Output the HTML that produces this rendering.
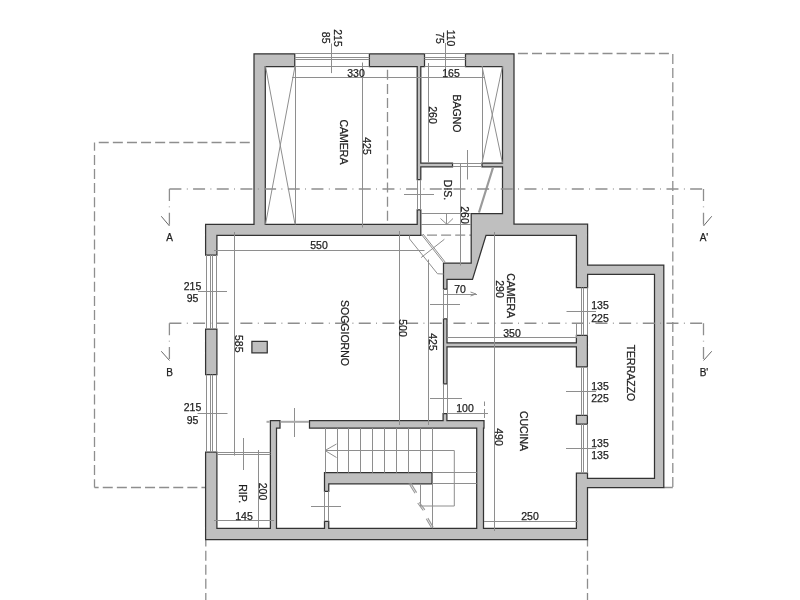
<!DOCTYPE html>
<html><head><meta charset="utf-8">
<style>
html,body{margin:0;padding:0;background:#fff;width:800px;height:600px;overflow:hidden}
svg{display:block;will-change:transform}
text{font-family:"Liberation Sans",sans-serif;fill:#1e1e1e;stroke:#1e1e1e;stroke-width:0.25px}
</style></head><body>
<svg width="800" height="600" viewBox="0 0 800 600">
<g fill="none" stroke="#8e8e8e" stroke-width="1.3">
<path d="M94.50,487.50L94.50,479.20M94.50,475.10L94.50,465.10M94.50,461.00L94.50,451.00M94.50,446.90L94.50,436.90M94.50,432.80L94.50,422.80M94.50,418.70L94.50,408.70M94.50,404.60L94.50,394.60M94.50,390.50L94.50,380.50M94.50,376.40L94.50,366.40M94.50,362.30L94.50,352.30M94.50,348.20L94.50,338.20M94.50,334.10L94.50,324.10M94.50,320.00L94.50,310.00M94.50,305.90L94.50,295.90M94.50,291.80L94.50,281.80M94.50,277.70L94.50,267.70M94.50,263.60L94.50,253.60M94.50,249.50L94.50,239.50M94.50,235.40L94.50,225.40M94.50,221.30L94.50,211.30M94.50,207.20L94.50,197.20M94.50,193.10L94.50,183.10M94.50,179.00L94.50,169.00M94.50,164.90L94.50,154.90M94.50,150.80L94.50,142.50M98.75,142.50L108.75,142.50M112.85,142.50L122.85,142.50M126.95,142.50L136.95,142.50M141.05,142.50L151.05,142.50M155.15,142.50L165.15,142.50M169.25,142.50L179.25,142.50M183.35,142.50L193.35,142.50M197.45,142.50L207.45,142.50M211.55,142.50L221.55,142.50M225.65,142.50L235.65,142.50M239.75,142.50L249.75,142.50M94.50,487.50L98.65,487.50M102.75,487.50L112.75,487.50M116.85,487.50L126.85,487.50M130.95,487.50L140.95,487.50M145.05,487.50L155.05,487.50M159.15,487.50L169.15,487.50M173.25,487.50L183.25,487.50M187.35,487.50L197.35,487.50M201.45,487.50L205.60,487.50M517.90,53.50L527.90,53.50M532.00,53.50L542.00,53.50M546.10,53.50L556.10,53.50M560.20,53.50L570.20,53.50M574.30,53.50L584.30,53.50M588.40,53.50L598.40,53.50M602.50,53.50L612.50,53.50M616.60,53.50L626.60,53.50M630.70,53.50L640.70,53.50M644.80,53.50L654.80,53.50M658.90,53.50L668.90,53.50M672.80,54.00L672.80,64.00M672.80,68.10L672.80,78.10M672.80,82.20L672.80,92.20M672.80,96.30L672.80,106.30M672.80,110.40L672.80,120.40M672.80,124.50L672.80,134.50M672.80,138.60L672.80,148.60M672.80,152.70L672.80,162.70M672.80,166.80L672.80,176.80M672.80,180.90L672.80,190.90M672.80,195.00L672.80,205.00M672.80,209.10L672.80,219.10M672.80,223.20L672.80,233.20M672.80,237.30L672.80,247.30M672.80,251.40L672.80,261.40M672.80,265.50L672.80,275.50M672.80,279.60L672.80,289.60M672.80,293.70L672.80,303.70M672.80,307.80L672.80,317.80M672.80,321.90L672.80,331.90M672.80,336.00L672.80,346.00M672.80,350.10L672.80,360.10M672.80,364.20L672.80,374.20M672.80,378.30L672.80,388.30M672.80,392.40L672.80,402.40M672.80,406.50L672.80,416.50M672.80,420.60L672.80,430.60M672.80,434.70L672.80,444.70M672.80,448.80L672.80,458.80M672.80,462.90L672.80,472.90M672.80,477.00L672.80,487.00M672.80,487.50L663.80,487.50M205.80,539.50L205.80,546.55M205.80,550.65L205.80,560.65M205.80,564.75L205.80,574.75M205.80,578.85L205.80,588.85M205.80,592.95L205.80,600.00M587.50,539.50L587.50,546.55M587.50,550.65L587.50,560.65M587.50,564.75L587.50,574.75M587.50,578.85L587.50,588.85M587.50,592.95L587.50,600.00M387.50,69.78L387.50,79.78M387.50,83.88L387.50,93.88M387.50,97.98L387.50,107.98M387.50,112.08L387.50,122.08M387.50,126.18L387.50,136.18M387.50,140.28L387.50,150.28M387.50,154.38L387.50,164.38M387.50,168.48L387.50,178.48M387.50,182.57L387.50,192.57M387.50,196.68L387.50,206.68M387.50,210.78L387.50,220.78M421.00,235.10L422.90,235.10M427.00,235.10L437.00,235.10M441.10,235.10L451.10,235.10M455.20,235.10L465.20,235.10M469.30,235.10L471.20,235.10"/>
</g>
<g fill="#bfbfbf" stroke="#333333" stroke-width="1.25" stroke-linejoin="miter">
<path d="M205.60,224.30 L205.60,255.00 L216.90,255.00 L216.90,235.30 L420.80,235.30 L420.80,209.80 L417.20,209.80 L417.20,224.30 L265.30,224.30 L265.30,66.50 L294.75,66.50 L294.75,53.80 L254.00,53.80 L254.00,224.30 ZM417.20,66.50 L417.20,179.60 L420.80,179.60 L420.80,166.80 L452.50,166.80 L452.50,163.20 L420.80,163.20 L420.80,66.50 L424.50,66.50 L424.50,53.80 L369.40,53.80 L369.40,66.50 ZM251.90,341.25 L251.90,352.75 L267.25,352.75 L267.25,341.25 ZM205.60,329.00 L205.60,374.60 L216.90,374.60 L216.90,329.00 ZM280.00,420.60 L270.40,420.60 L270.40,528.30 L216.90,528.30 L216.90,452.20 L205.60,452.20 L205.60,539.50 L587.50,539.50 L587.50,487.50 L663.80,487.50 L663.80,265.00 L587.60,265.00 L587.60,224.20 L514.00,224.20 L514.00,53.80 L465.50,53.80 L465.50,66.50 L502.50,66.50 L502.50,163.20 L482.00,163.20 L482.00,166.80 L502.50,166.80 L502.50,213.50 L471.20,213.50 L471.20,263.10 L443.50,263.10 L443.50,289.00 L447.00,289.00 L447.00,279.40 L472.50,279.40 L486.00,235.30 L576.40,235.30 L576.40,287.50 L587.60,287.50 L587.60,274.30 L654.50,274.30 L654.50,478.40 L587.50,478.40 L587.50,473.15 L576.40,473.15 L576.40,528.30 L483.50,528.30 L483.50,428.10 L484.00,428.10 L484.00,420.60 L446.90,420.60 L446.90,413.50 L443.10,413.50 L443.10,420.60 L309.50,420.60 L309.50,428.10 L476.70,428.10 L476.70,528.30 L328.75,528.30 L328.75,521.25 L324.50,521.25 L324.50,528.30 L276.50,528.30 L276.50,428.10 L280.00,428.10 ZM328.75,483.80 L432.00,483.80 L432.00,472.70 L324.50,472.70 L324.50,491.25 L328.75,491.25 ZM447.00,346.90 L576.40,346.90 L576.40,366.90 L587.40,366.90 L587.40,335.40 L576.40,335.40 L576.40,342.75 L447.00,342.75 L447.00,318.75 L443.50,318.75 L443.50,383.75 L447.00,383.75 ZM576.40,415.40 L576.40,424.15 L587.40,424.15 L587.40,415.40 Z" fill-rule="evenodd"/>
</g>
<g fill="none" stroke="#8e8e8e" stroke-width="1">
<line x1="294.75" y1="53.5" x2="369.4" y2="53.5"/>
<line x1="424.5" y1="53.5" x2="465.5" y2="53.5"/>
<line x1="294.75" y1="57.5" x2="369.4" y2="57.5"/>
<line x1="424.5" y1="57.5" x2="465.5" y2="57.5"/>
<line x1="294.75" y1="59.5" x2="369.4" y2="59.5"/>
<line x1="424.5" y1="59.5" x2="465.5" y2="59.5"/>
<line x1="294.75" y1="66.5" x2="369.4" y2="66.5"/>
<line x1="424.5" y1="66.5" x2="465.5" y2="66.5"/>
<line x1="295.5" y1="66.25" x2="295.5" y2="224.3"/>
<line x1="265.5" y1="66.25" x2="295" y2="224.3"/>
<line x1="295" y1="66.25" x2="265.5" y2="224.3"/>
<line x1="331.5" y1="43.5" x2="331.5" y2="73.1"/>
<line x1="445.5" y1="43" x2="445.5" y2="73"/>
<line x1="292" y1="77.5" x2="485" y2="77.5"/>
<line x1="362.5" y1="62.5" x2="362.5" y2="227.5"/>
<line x1="428.5" y1="63" x2="428.5" y2="163"/>
<line x1="482.5" y1="66.25" x2="482.5" y2="163.2"/>
<line x1="482" y1="66.25" x2="502.5" y2="163.2"/>
<line x1="502.5" y1="66.25" x2="482" y2="163.2"/>
<line x1="467.5" y1="150" x2="467.5" y2="179.5"/>
<line x1="452.5" y1="163.5" x2="482" y2="163.5"/>
<line x1="452.5" y1="166.5" x2="482" y2="166.5"/>
<line x1="417.5" y1="179.6" x2="417.5" y2="209.8"/>
<line x1="420.5" y1="179.6" x2="420.5" y2="209.8"/>
<line x1="460.5" y1="163" x2="460.5" y2="265.5"/>
<line x1="404" y1="194.5" x2="434" y2="194.5"/>
<line x1="421" y1="213.5" x2="471" y2="213.5"/>
<line x1="421" y1="224.5" x2="471" y2="224.5"/>
<line x1="446.5" y1="213.1" x2="446.5" y2="224.4"/>
<polyline points="440.5,218.5 446.9,224.4 453,218.5"/>
<line x1="421.1" y1="234" x2="443.25" y2="262.1"/>
<line x1="423" y1="234" x2="445.5" y2="262.5"/>
<line x1="421.1" y1="257.6" x2="444.4" y2="239.25"/>
<polyline points="409.5,235.5 409.5,238.9 437.5,273.75 443.5,274"/>
<line x1="214" y1="250.5" x2="424.5" y2="250.5"/>
<line x1="234.5" y1="232" x2="234.5" y2="455.6"/>
<line x1="399.5" y1="231" x2="399.5" y2="425"/>
<line x1="428.5" y1="259.5" x2="428.5" y2="425"/>
<line x1="494.5" y1="232" x2="494.5" y2="531"/>
<line x1="206.5" y1="255" x2="206.5" y2="329"/>
<line x1="206.5" y1="374.6" x2="206.5" y2="452.2"/>
<line x1="210.5" y1="255" x2="210.5" y2="329"/>
<line x1="210.5" y1="374.6" x2="210.5" y2="452.2"/>
<line x1="212.5" y1="255" x2="212.5" y2="329"/>
<line x1="212.5" y1="374.6" x2="212.5" y2="452.2"/>
<line x1="216.5" y1="255" x2="216.5" y2="329"/>
<line x1="216.5" y1="374.6" x2="216.5" y2="452.2"/>
<line x1="198" y1="291.5" x2="227" y2="291.5"/>
<line x1="197.5" y1="413.5" x2="227.5" y2="413.5"/>
<line x1="581.5" y1="287.5" x2="581.5" y2="335.4"/>
<line x1="581.5" y1="366.9" x2="581.5" y2="415.4"/>
<line x1="581.5" y1="424.15" x2="581.5" y2="473.15"/>
<line x1="583.5" y1="287.5" x2="583.5" y2="335.4"/>
<line x1="583.5" y1="366.9" x2="583.5" y2="415.4"/>
<line x1="583.5" y1="424.15" x2="583.5" y2="473.15"/>
<line x1="587.5" y1="287.5" x2="587.5" y2="335.4"/>
<line x1="587.5" y1="366.9" x2="587.5" y2="415.4"/>
<line x1="587.5" y1="424.15" x2="587.5" y2="473.15"/>
<line x1="566.5" y1="311.5" x2="596" y2="311.5"/>
<line x1="566" y1="391.5" x2="596" y2="391.5"/>
<line x1="566" y1="448.5" x2="596" y2="448.5"/>
<line x1="444" y1="294.5" x2="477" y2="294.5"/>
<line x1="430" y1="304.5" x2="460" y2="304.5"/>
<polyline points="470.5,292 476,294 470.5,296"/>
<line x1="443.5" y1="289" x2="443.5" y2="318.75"/>
<line x1="447.5" y1="289" x2="447.5" y2="318.75"/>
<line x1="443.5" y1="383.75" x2="443.5" y2="413.5"/>
<line x1="447.5" y1="383.75" x2="447.5" y2="413.5"/>
<line x1="447" y1="337.5" x2="576.4" y2="337.5"/>
<line x1="576.5" y1="323.5" x2="576.5" y2="338"/>
<line x1="447" y1="413.5" x2="488" y2="413.5"/>
<line x1="430" y1="398.5" x2="462" y2="398.5"/>
<line x1="484.5" y1="401.5" x2="484.5" y2="406"/>
<line x1="484.5" y1="409" x2="484.5" y2="418"/>
<line x1="325.5" y1="428.1" x2="325.5" y2="472.7"/>
<line x1="337.5" y1="428.1" x2="337.5" y2="472.7"/>
<line x1="348.5" y1="428.1" x2="348.5" y2="472.7"/>
<line x1="360.5" y1="428.1" x2="360.5" y2="472.7"/>
<line x1="372.5" y1="428.1" x2="372.5" y2="472.7"/>
<line x1="384.5" y1="428.1" x2="384.5" y2="472.7"/>
<line x1="396.5" y1="428.1" x2="396.5" y2="472.7"/>
<line x1="408.5" y1="428.1" x2="408.5" y2="472.7"/>
<line x1="420.5" y1="428.1" x2="420.5" y2="472.7"/>
<line x1="432.5" y1="428.1" x2="432.5" y2="472.7"/>
<line x1="432.5" y1="483.8" x2="432.5" y2="528.3"/>
<line x1="420.5" y1="483.8" x2="420.5" y2="506"/>
<polyline points="325,450.5 454.3,450.5 454.3,506 420,506"/>
<polyline points="336.5,444 325,450.5 336.5,457.5"/>
<line x1="432" y1="472.5" x2="476.7" y2="472.5"/>
<line x1="432" y1="483.5" x2="476.7" y2="483.5"/>
<line x1="324.5" y1="491.25" x2="324.5" y2="521.25"/>
<line x1="328.5" y1="491.25" x2="328.5" y2="521.25"/>
<line x1="311" y1="506.5" x2="341" y2="506.5"/>
<line x1="294.5" y1="408" x2="294.5" y2="437"/>
<line x1="216.9" y1="452.5" x2="270.4" y2="452.5"/>
<line x1="216.9" y1="454.5" x2="270.4" y2="454.5"/>
<line x1="243.5" y1="438" x2="243.5" y2="470"/>
<line x1="258.5" y1="450" x2="258.5" y2="528.3"/>
<line x1="214" y1="520.5" x2="274" y2="520.5"/>
<line x1="484" y1="521.5" x2="578" y2="521.5"/>
</g>
<g fill="none" stroke="#999" stroke-width="1.1">
<line x1="409" y1="483.5" x2="415" y2="493.25"/>
<line x1="410.6" y1="482.9" x2="416.6" y2="492.65"/>
<line x1="417.7" y1="503" x2="423.25" y2="510.5"/>
<line x1="419.3" y1="502.4" x2="424.85" y2="509.9"/>
<line x1="426.25" y1="518.75" x2="431.5" y2="527.75"/>
<line x1="427.85" y1="518.15" x2="433.1" y2="527.15"/>
</g>
<g fill="none" stroke="#9a9a9a" stroke-width="2.2">
<line x1="493" y1="167.5" x2="479" y2="212.5"/>
<line x1="266.5" y1="421.8" x2="269.8" y2="421.8" stroke="#a8a8a8" stroke-width="2"/><line x1="280.6" y1="421.8" x2="309" y2="421.8" stroke="#a8a8a8" stroke-width="2"/>
</g>
<g fill="none" stroke="#8e8e8e" stroke-width="1.3">
<path d="M169.40,189.00L169.40,201.00M169.40,206.44L169.40,207.24M169.40,212.67L169.40,224.67M169.40,189.00L181.40,189.00M186.84,189.00L187.64,189.00M193.07,189.00L205.07,189.00M210.50,189.00L211.31,189.00M216.74,189.00L228.74,189.00M234.18,189.00L234.98,189.00M240.41,189.00L252.41,189.00M257.85,189.00L258.64,189.00M264.08,189.00L276.08,189.00M281.51,189.00L282.31,189.00M287.75,189.00L299.75,189.00M305.19,189.00L305.99,189.00M311.42,189.00L323.42,189.00M328.86,189.00L329.66,189.00M335.09,189.00L347.09,189.00M352.52,189.00L353.33,189.00M358.76,189.00L370.76,189.00M376.20,189.00L377.00,189.00M382.43,189.00L394.43,189.00M399.87,189.00L400.67,189.00M406.10,189.00L418.10,189.00M423.54,189.00L424.34,189.00M429.77,189.00L441.77,189.00M447.21,189.00L448.01,189.00M453.44,189.00L465.44,189.00M470.88,189.00L471.68,189.00M477.11,189.00L489.11,189.00M494.55,189.00L495.35,189.00M500.78,189.00L512.78,189.00M518.22,189.00L519.02,189.00M524.45,189.00L536.45,189.00M541.89,189.00L542.69,189.00M548.12,189.00L560.12,189.00M565.56,189.00L566.36,189.00M571.79,189.00L583.79,189.00M589.23,189.00L590.03,189.00M595.46,189.00L607.46,189.00M612.90,189.00L613.70,189.00M619.13,189.00L631.13,189.00M636.57,189.00L637.37,189.00M642.80,189.00L654.80,189.00M660.24,189.00L661.04,189.00M666.47,189.00L678.47,189.00M683.91,189.00L684.71,189.00M690.14,189.00L702.14,189.00M703.50,189.00L703.50,201.00M703.50,206.44L703.50,207.24M703.50,212.67L703.50,224.67M169.40,323.25L169.40,335.25M169.40,340.69L169.40,341.49M169.40,346.92L169.40,358.92M169.40,323.25L181.40,323.25M186.84,323.25L187.64,323.25M193.07,323.25L205.07,323.25M210.50,323.25L211.31,323.25M216.74,323.25L228.74,323.25M234.18,323.25L234.98,323.25M240.41,323.25L252.41,323.25M257.85,323.25L258.64,323.25M264.08,323.25L276.08,323.25M281.51,323.25L282.31,323.25M287.75,323.25L299.75,323.25M305.19,323.25L305.99,323.25M311.42,323.25L323.42,323.25M328.86,323.25L329.66,323.25M335.09,323.25L347.09,323.25M352.52,323.25L353.33,323.25M358.76,323.25L370.76,323.25M376.20,323.25L377.00,323.25M382.43,323.25L394.43,323.25M399.87,323.25L400.67,323.25M406.10,323.25L418.10,323.25M423.54,323.25L424.34,323.25M429.77,323.25L441.77,323.25M447.21,323.25L448.01,323.25M453.44,323.25L465.44,323.25M470.88,323.25L471.68,323.25M477.11,323.25L489.11,323.25M494.55,323.25L495.35,323.25M500.78,323.25L512.78,323.25M518.22,323.25L519.02,323.25M524.45,323.25L536.45,323.25M541.89,323.25L542.69,323.25M548.12,323.25L560.12,323.25M565.56,323.25L566.36,323.25M571.79,323.25L583.79,323.25M589.23,323.25L590.03,323.25M595.46,323.25L607.46,323.25M612.90,323.25L613.70,323.25M619.13,323.25L631.13,323.25M636.57,323.25L637.37,323.25M642.80,323.25L654.80,323.25M660.24,323.25L661.04,323.25M666.47,323.25L678.47,323.25M683.91,323.25L684.71,323.25M690.14,323.25L702.14,323.25M703.50,323.25L703.50,335.25M703.50,340.69L703.50,341.49M703.50,346.92L703.50,358.92"/>
</g>
<g fill="none" stroke="#666" stroke-width="1">
<line x1="161.25" y1="216.25" x2="169.5" y2="226"/>
<line x1="711.75" y1="216.25" x2="703.5" y2="226"/>
<line x1="161.25" y1="351.25" x2="169.5" y2="360.5"/>
<line x1="711.75" y1="351.25" x2="703.5" y2="360.5"/>
</g>
<g font-size="10.5" text-anchor="middle">
<text x="356" y="76.5">330</text>
<text x="451" y="77">165</text>
<text x="319" y="249">550</text>
<text x="192.5" y="289.5">215</text>
<text x="192.5" y="302">95</text>
<text x="192.5" y="411">215</text>
<text x="192.5" y="424">95</text>
<text x="460" y="293">70</text>
<text x="512" y="337">350</text>
<text x="600" y="309">135</text>
<text x="600" y="321.5">225</text>
<text x="600" y="390">135</text>
<text x="600" y="402">225</text>
<text x="600" y="447">135</text>
<text x="600" y="459">135</text>
<text x="465" y="412">100</text>
<text x="244" y="520">145</text>
<text x="530" y="520">250</text>
<text x="169.7" y="240.7" font-size="10">A</text>
<text x="704" y="241" font-size="10">A'</text>
<text x="169.7" y="375.5" font-size="10">B</text>
<text x="704" y="375.5" font-size="10">B'</text>
<text transform="translate(337.5,38) rotate(90)" y="3.8">215</text>
<text transform="translate(326.2,37.7) rotate(90)" y="3.8">85</text>
<text transform="translate(451,38) rotate(90)" y="3.8">110</text>
<text transform="translate(439.4,38) rotate(90)" y="3.8">75</text>
<text transform="translate(344,142) rotate(90)" y="3.8">CAMERA</text>
<text transform="translate(367,146) rotate(90)" y="3.8">425</text>
<text transform="translate(457,113.5) rotate(90)" y="3.8">BAGNO</text>
<text transform="translate(433,115) rotate(90)" y="3.8">260</text>
<text transform="translate(448,190) rotate(90)" y="3.8">DIS.</text>
<text transform="translate(465,215) rotate(90)" y="3.8">260</text>
<text transform="translate(345,333) rotate(90)" y="3.8">SOGGIORNO</text>
<text transform="translate(238.75,343.75) rotate(90)" y="3.8">585</text>
<text transform="translate(403.25,328) rotate(90)" y="3.8">500</text>
<text transform="translate(433,342) rotate(90)" y="3.8">425</text>
<text transform="translate(511,295.6) rotate(90)" y="3.8">CAMERA</text>
<text transform="translate(499.4,289) rotate(90)" y="3.8">290</text>
<text transform="translate(631,373) rotate(90)" y="3.8">TERRAZZO</text>
<text transform="translate(524,431) rotate(90)" y="3.8">CUCINA</text>
<text transform="translate(499,437) rotate(90)" y="3.8">490</text>
<text transform="translate(242.5,493.75) rotate(90)" y="3.8">RIP.</text>
<text transform="translate(263,491.5) rotate(90)" y="3.8">200</text>
</g>
</svg>
</body></html>
